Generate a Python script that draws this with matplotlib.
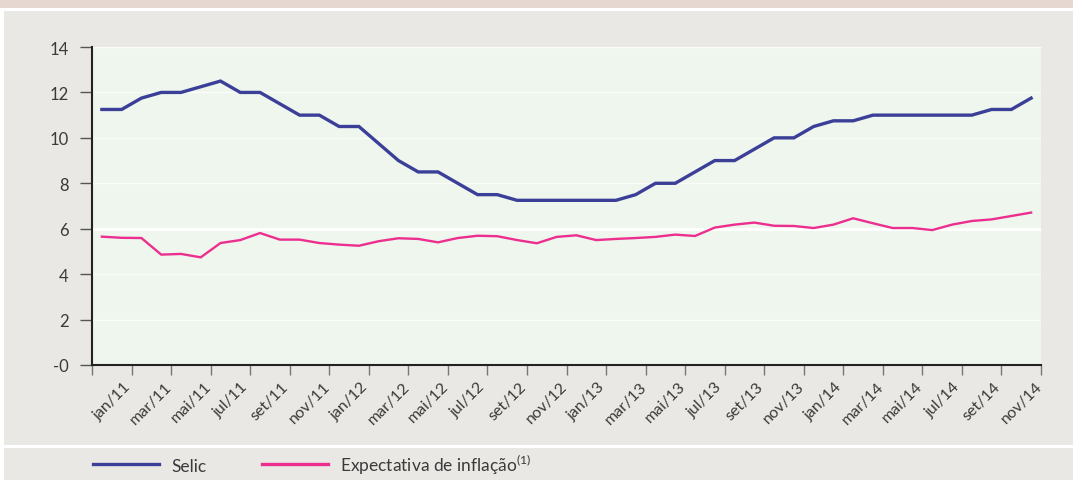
import matplotlib
matplotlib.use("Agg")
import matplotlib.pyplot as plt
import matplotlib.patches as mpatches
import numpy as np

plt.rcParams["font.family"] = ["Lato", "DejaVu Sans"]
plt.rcParams["mathtext.default"] = "regular"

# months jan/11 .. dez/14
meses = ["jan", "fev", "mar", "abr", "mai", "jun", "jul", "ago", "set", "out", "nov", "dez"]
months = [f"{m}/{y}" for y in ["11", "12", "13", "14"] for m in meses]

selic = [11.25, 11.25, 11.75, 12.00, 12.00, 12.25, 12.50, 12.00, 12.00, 11.50, 11.00, 11.00,
         10.50, 10.50, 9.75, 9.00, 8.50, 8.50, 8.00, 7.50, 7.50, 7.25, 7.25, 7.25,
         7.25, 7.25, 7.25, 7.50, 8.00, 8.00, 8.50, 9.00, 9.00, 9.50, 10.00, 10.00,
         10.50, 10.75, 10.75, 11.00, 11.00, 11.00, 11.00, 11.00, 11.00, 11.25, 11.25, 11.75]

expectativa = [5.65, 5.60, 5.59, 4.86, 4.89, 4.74, 5.37, 5.50, 5.81, 5.52, 5.52, 5.37,
               5.30, 5.25, 5.45, 5.58, 5.55, 5.40, 5.59, 5.69, 5.67, 5.50, 5.36, 5.64,
               5.71, 5.50, 5.55, 5.59, 5.64, 5.74, 5.68, 6.05, 6.18, 6.27, 6.13, 6.12,
               6.03, 6.18, 6.46, 6.24, 6.03, 6.03, 5.94, 6.18, 6.34, 6.41, 6.56, 6.71]

yticks = [0, 2, 4, 6, 8, 10, 12, 14]
ytick_labels = ["-0", "2", "4", "6", "8", "10", "12", "14"]

COL = {
    "selic": "#3b3f98",
    "expect": "#ec2f8e",
    "panel": "#eae8e4",
    "plot": "#eef6ee",
    "text": "#3a3a3a",
}

fig = plt.figure(figsize=(10.73, 4.81), dpi=100, facecolor=COL["panel"])

# top photo strip + white borders
fig.add_artist(mpatches.Rectangle((0, 1 - 9 / 481), 1, 9 / 481, transform=fig.transFigure,
                                  facecolor="#e6d8d0", edgecolor="none"))
fig.add_artist(mpatches.Rectangle((0, 1 - 11.5 / 481), 1, 2.5 / 481, transform=fig.transFigure,
                                  facecolor="white", edgecolor="none"))
fig.add_artist(mpatches.Rectangle((0, 0), 4 / 1073, 1 - 9 / 481, transform=fig.transFigure,
                                  facecolor="white", edgecolor="none"))
fig.add_artist(mpatches.Rectangle((0, 1 - 449 / 481), 1, 3 / 481, transform=fig.transFigure,
                                  facecolor="white", edgecolor="none"))

ax = fig.add_axes([92 / 1073, 1 - 366 / 481, 949 / 1073, 318 / 481])
ax.set_facecolor(COL["plot"])

x = np.arange(len(months))

# grid
for v in yticks[1:]:
    if v == 6:
        ax.axhline(v, color="white", lw=2.2, zorder=1)
    else:
        ax.axhline(v, color="#fbfdf9", lw=1.0, zorder=1)

ax.plot(x, selic, color=COL["selic"], lw=2.4, solid_joinstyle="miter", zorder=3, label="Selic")
ax.plot(x, expectativa, color=COL["expect"], lw=1.7, zorder=3,
        label="Expectativa de inflação$^{(1)}$")

ax.set_xlim(-0.5, len(months) - 0.5)
ax.set_ylim(0, 14)

ax.set_yticks(yticks)
ax.set_yticklabels(ytick_labels)
ax.tick_params(axis="y", length=9, width=1, color="#555555", pad=8,
               labelsize=12, labelcolor=COL["text"])

# tick marks at every other category boundary, labels centred in between
ax.set_xticks(np.arange(-0.5, len(months), 2))
ax.set_xticklabels([])
ax.tick_params(axis="x", which="major", length=7, width=1, color="#777777")
ax.set_xticks(np.arange(0.5, len(months), 2), minor=True)
ax.set_xticklabels(months[::2], minor=True, rotation=45, ha="center", va="top",
                   fontsize=11.5, color=COL["text"])
ax.tick_params(axis="x", which="minor", length=0, pad=10)

for s in ["top", "right"]:
    ax.spines[s].set_visible(False)
for s in ["left", "bottom"]:
    ax.spines[s].set_color("#222222")
    ax.spines[s].set_linewidth(1.5)

fig.legend(loc="center left", bbox_to_anchor=(93 / 1073, 1 - 465 / 481), ncol=2,
           frameon=False, fontsize=12.5, handlelength=3.8, handletextpad=0.7,
           columnspacing=3.2, borderpad=0, borderaxespad=0, labelcolor=COL["text"])
for line in fig.legends[0].get_lines():
    line.set_linewidth(2.4)

fig.savefig("out.png", dpi=100, facecolor=fig.get_facecolor())
